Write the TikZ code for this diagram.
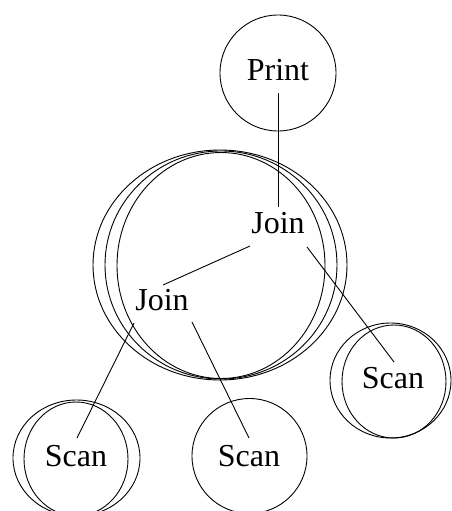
\documentclass[tikz,border=0pt]{standalone}
\usepackage{fontspec}
\setmainfont{Liberation Serif}
\begin{document}
\begin{tikzpicture}[x=1pt,y=-1pt,
  lbl/.style={anchor=base,inner sep=0pt,font=\fontsize{32}{38}\selectfont},
  ring/.style={draw=black,line width=0.9pt},
  edge/.style={draw=black,line width=0.9pt}]
\useasboundingbox (0,0) rectangle (451,511);
% labels
\node[lbl] (print) at (278,81) {Print};
\node[lbl] (join1) at (278,233) {Join};
\node[lbl] (join2) at (162,310) {Join};
\node[lbl] (scanR) at (393,388) {Scan};
\node[lbl] (scanL) at (76,466) {Scan};
\node[lbl] (scanM) at (249,466) {Scan};
% rings
\draw[ring] (278,73) circle [radius=58pt];
\draw[ring] (220,265) ellipse [x radius=127pt, y radius=115pt];
\draw[ring] (221,265) ellipse [x radius=116pt, y radius=114pt];
\draw[ring] (221,265.5) ellipse [x radius=104pt, y radius=113pt];
\draw[ring] (390.5,380.5) ellipse [x radius=60.5pt, y radius=57.5pt];
\draw[ring] (394,381.5) ellipse [x radius=52pt, y radius=56.5pt];
\draw[ring] (76.5,458) ellipse [x radius=63.5pt, y radius=58pt];
\draw[ring] (76,459) ellipse [x radius=52pt, y radius=57pt];
\draw[ring] (249.5,456) circle [radius=57.5pt];
% connector end points
\coordinate (e1a) at (278,93);  \coordinate (e1b) at (278,207);
\coordinate (e2a) at (250,246); \coordinate (e2b) at (163,285);
\coordinate (e3a) at (307,247); \coordinate (e3b) at (394,362);
\coordinate (e4a) at (134,323); \coordinate (e4b) at (77,438);
\coordinate (e5a) at (192,322); \coordinate (e5b) at (249,438);
\draw[edge] (e1a) -- (e1b);
\draw[edge] (e2a) -- (e2b);
\draw[edge] (e3a) -- (e3b);
\draw[edge] (e4a) -- (e4b);
\draw[edge] (e5a) -- (e5b);
\end{tikzpicture}
\end{document}
